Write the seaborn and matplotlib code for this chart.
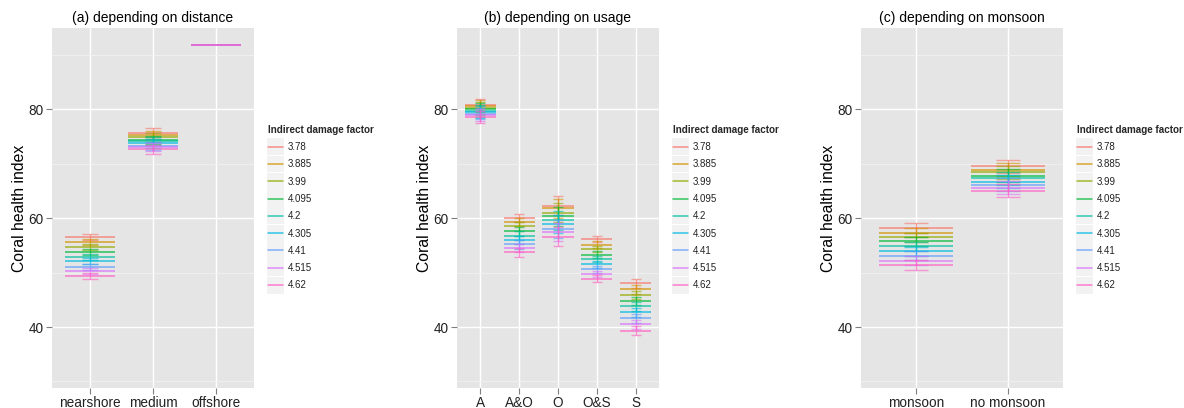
import numpy as np
import pandas as pd
import matplotlib
matplotlib.use("Agg")
import matplotlib.pyplot as plt
from matplotlib.lines import Line2D
from matplotlib.patches import Rectangle
from matplotlib.legend_handler import HandlerBase
import seaborn as sns

# Indirect damage factor levels (legend entries)
factor_labels = ["3.78", "3.885", "3.99", "4.095", "4.2", "4.305", "4.41", "4.515", "4.62"]

# (a) by distance: mean coral health index per category and factor level
distance_cats = ["nearshore", "medium", "offshore"]
distance_means = [
    [56.5, 55.6, 54.7, 53.8, 52.8, 52.1, 51.1, 50.3, 49.4],
    [75.7, 75.2, 74.8, 74.4, 74.1, 73.7, 73.3, 73.0, 72.6],
    [91.7, 91.7, 91.7, 91.7, 91.7, 91.7, 91.7, 91.7, 91.7],
]
distance_err = [0.55, 0.75, 0.0]

# (b) by usage
usage_cats = ["A", "A&O", "O", "O&S", "S"]
usage_means = [
    [80.8, 80.5, 80.3, 80.0, 79.7, 79.4, 79.2, 78.9, 78.6],
    [60.0, 59.3, 58.5, 57.6, 56.8, 56.0, 55.2, 54.5, 53.7],
    [62.3, 61.8, 61.0, 60.3, 59.6, 58.9, 58.0, 57.4, 56.6],
    [56.2, 55.1, 54.3, 53.3, 52.5, 51.5, 50.6, 49.7, 48.9],
    [48.0, 46.9, 45.9, 44.8, 43.8, 42.7, 41.6, 40.5, 39.3],
]
usage_err = [1.1, 0.8, 1.7, 0.6, 0.8]

# (c) by monsoon
monsoon_cats = ["monsoon", "no monsoon"]
monsoon_means = [
    [58.2, 57.3, 56.5, 55.7, 54.8, 53.9, 53.1, 52.2, 51.4],
    [69.5, 68.9, 68.4, 67.8, 67.3, 66.7, 66.1, 65.6, 65.0],
]
monsoon_err = [0.85, 1.2]

titles = ["(a) depending on distance", "(b) depending on usage", "(c) depending on monsoon"]

sns.set_theme(style="darkgrid")
plt.rcParams["font.family"] = ["Liberation Sans", "DejaVu Sans"]

# ggplot-like hue palette
palette = ["#F8766D", "#D39200", "#93AA00", "#00BA38", "#00C19F",
           "#00B9E3", "#619CFF", "#DB72FB", "#FF61C3"]


class KeyHandler(HandlerBase):
    """Legend key: light grey square with a short coloured line."""

    def create_artists(self, legend, orig_handle, xdescent, ydescent,
                       width, height, fontsize, trans):
        cy = height / 2 - ydescent
        half = 6.1
        rect = Rectangle((-xdescent - 0.8, cy - half), width + 1.6, 2 * half,
                         facecolor="#F2F2F2", edgecolor="none", transform=trans)
        line = Line2D([-xdescent, width - xdescent], [cy, cy],
                      color=orig_handle.get_color(), alpha=orig_handle.get_alpha(),
                      lw=orig_handle.get_linewidth(), transform=trans)
        return [rect, line]


def long_table(cats, means, errs):
    rows = []
    for ci, cat in enumerate(cats):
        for fi, lab in enumerate(factor_labels):
            m = means[ci][fi]
            rows.append({"category": cat, "pos": ci, "factor": lab,
                         "mean": m, "lo": m - errs[ci], "hi": m + errs[ci]})
    return pd.DataFrame(rows)


fig = plt.figure(figsize=(11.84, 4.08), dpi=100)
lefts = [52, 457, 861]
panel_w = 202
ax_bottom = 1 - 388 / 408
ax_height = (388 - 28) / 408

panels = [
    (distance_cats, distance_means, distance_err),
    (usage_cats, usage_means, usage_err),
    (monsoon_cats, monsoon_means, monsoon_err),
]

for k, (cats, means, errs) in enumerate(panels):
    ax = fig.add_axes([lefts[k] / 1184, ax_bottom, panel_w / 1184, ax_height])
    ax.set_facecolor("#E5E5E5")
    df = long_table(cats, means, errs)
    n = len(cats)

    for fi, lab in enumerate(factor_labels):
        sub = df[df["factor"] == lab]
        col = palette[fi]
        # mean line across the category
        ax.hlines(sub["mean"], sub["pos"] - 0.4, sub["pos"] + 0.4,
                  colors=col, lw=1.1, alpha=0.82, zorder=3)
        # error bar with caps (only where there is spread)
        eb = sub[sub["hi"] > sub["lo"]]
        ax.vlines(eb["pos"], eb["lo"], eb["hi"], colors=col, lw=1.0, alpha=0.7, zorder=3)
        ax.hlines(eb["lo"], eb["pos"] - 0.13, eb["pos"] + 0.13,
                  colors=col, lw=1.0, alpha=0.6, zorder=3)
        ax.hlines(eb["hi"], eb["pos"] - 0.13, eb["pos"] + 0.13,
                  colors=col, lw=1.0, alpha=0.6, zorder=3)

    ax.set_xlim(-0.6, n - 0.4)
    ax.set_ylim(28.8, 94.9)
    ax.set_xticks(range(n))
    ax.set_xticklabels(cats)
    ax.set_yticks([40, 60, 80])
    ax.set_yticks([30, 50, 70, 90], minor=True)
    ax.grid(which="major", color="white", lw=1.0)
    ax.grid(which="minor", color="#F2F2F2", lw=0.6)
    ax.set_axisbelow(True)
    for s in ax.spines.values():
        s.set_visible(False)
    ax.tick_params(axis="both", which="major", length=4, width=0.8, color="#7F7F7F",
                   labelsize=9.8, labelcolor="#222222", pad=2, bottom=True, left=True)
    ax.tick_params(axis="both", which="minor", length=0)
    ax.set_ylabel("Coral health index", fontsize=11.3, color="black", labelpad=1)
    ax.set_xlabel("")
    ax.set_title(titles[k], fontsize=10, color="black", pad=4)

    handles = [Line2D([0], [0], color=c, lw=1.1, alpha=0.8) for c in palette]
    leg = ax.legend(handles, factor_labels, title="Indirect damage factor",
                    loc="upper left", bbox_to_anchor=(1.07, 0.731), frameon=False,
                    fontsize=7, title_fontproperties={"weight": "bold", "size": 7.1},
                    handlelength=1.55, handletextpad=0.45, labelspacing=0.75,
                    borderpad=0, borderaxespad=0, alignment="left",
                    handler_map={Line2D: KeyHandler()})
    for t in leg.get_texts():
        t.set_color("#222222")

fig.savefig("out.png", dpi=100)
